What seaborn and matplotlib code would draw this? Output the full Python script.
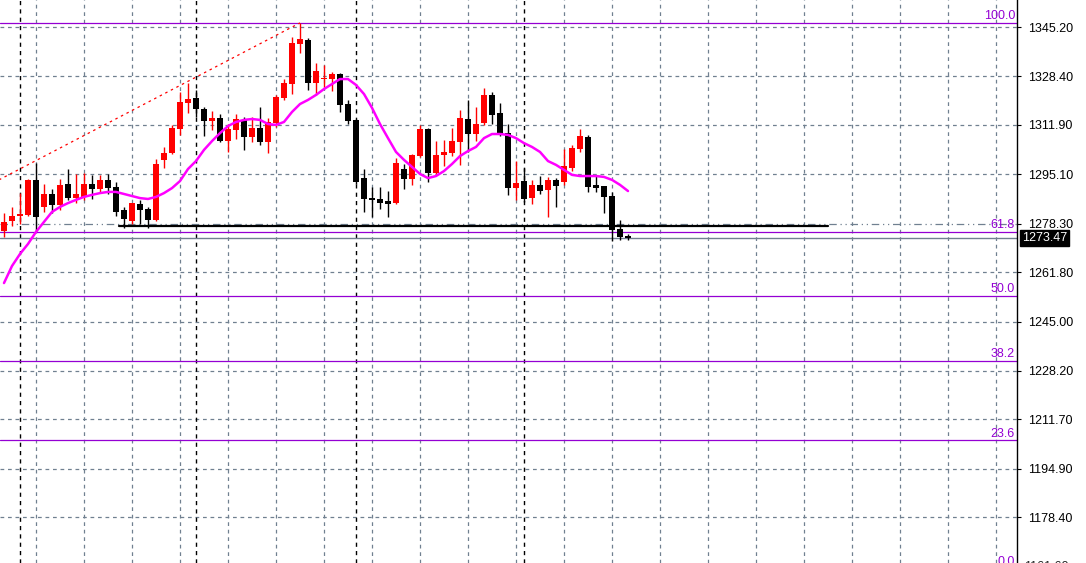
import numpy as np
import matplotlib
matplotlib.use("Agg")
import matplotlib.pyplot as plt
import matplotlib.transforms as mtransforms
import seaborn as sns

# daily candles (gold)
opens = [1275.8, 1279.2, 1280.9, 1281.3, 1293.2, 1284.0, 1288.4, 1284.7, 1291.8, 1287.0,
         1287.4, 1291.8, 1290.1, 1293.2, 1290.8, 1283.0, 1279.2, 1285.0, 1283.3, 1279.6,
         1300.0, 1302.3, 1310.5, 1319.4, 1321.0, 1317.3, 1313.2, 1314.2, 1306.4, 1310.2,
         1313.6, 1307.8, 1310.9, 1306.1, 1312.6, 1321.1, 1325.8, 1339.4, 1340.8, 1326.2,
         1327.5, 1327.5, 1329.2, 1319.0, 1313.6, 1293.8, 1287.0, 1286.7, 1286.0, 1285.3,
         1296.9, 1293.5, 1301.3, 1310.5, 1295.5, 1301.7, 1302.3, 1306.1, 1313.9, 1308.8,
         1312.5, 1322.1, 1315.9, 1309.1, 1290.4, 1292.8, 1287.0, 1291.5, 1289.8, 1293.2,
         1292.5, 1297.2, 1303.7, 1307.8, 1291.5, 1291.1, 1287.7, 1276.5, 1274.1]
highs = [1281.9, 1284.0, 1288.7, 1293.5, 1298.9, 1291.8, 1290.1, 1293.5, 1296.9, 1295.2,
         1295.5, 1294.9, 1294.9, 1295.2, 1292.5, 1284.0, 1285.5, 1286.4, 1284.0, 1300.3,
         1304.4, 1311.9, 1323.1, 1326.2, 1323.8, 1318.0, 1316.6, 1315.6, 1312.2, 1315.6,
         1314.6, 1314.6, 1318.0, 1314.3, 1322.1, 1327.5, 1341.8, 1346.6, 1341.5, 1333.0,
         1332.3, 1329.9, 1329.5, 1320.4, 1313.9, 1296.9, 1290.8, 1290.8, 1289.4, 1300.6,
         1298.6, 1302.0, 1311.9, 1310.9, 1306.4, 1306.8, 1310.9, 1317.0, 1320.4, 1318.0,
         1324.5, 1323.1, 1319.4, 1312.2, 1299.6, 1297.2, 1293.2, 1294.5, 1294.2, 1293.8,
         1303.7, 1305.1, 1310.5, 1308.5, 1294.9, 1291.1, 1289.1, 1279.5, 1274.8]
lows = [1273.8, 1277.5, 1278.2, 1280.9, 1275.8, 1282.3, 1281.9, 1283.0, 1286.4, 1285.3,
        1286.4, 1286.7, 1289.1, 1288.4, 1280.9, 1276.8, 1278.2, 1278.2, 1276.8, 1279.3,
        1297.2, 1302.0, 1308.5, 1315.9, 1314.6, 1308.1, 1310.2, 1306.0, 1302.7, 1307.1,
        1303.4, 1306.1, 1305.1, 1302.3, 1311.2, 1320.4, 1322.4, 1336.4, 1323.8, 1322.1,
        1324.8, 1323.4, 1316.3, 1312.2, 1291.8, 1282.3, 1280.6, 1283.3, 1280.6, 1285.0,
        1290.1, 1291.5, 1301.0, 1292.5, 1294.9, 1297.9, 1301.3, 1298.3, 1302.7, 1306.4,
        1311.9, 1312.2, 1308.1, 1288.1, 1286.4, 1285.7, 1285.0, 1288.4, 1280.6, 1284.0,
        1291.5, 1296.2, 1302.7, 1289.1, 1289.1, 1281.9, 1272.4, 1272.7, 1272.7]
closes = [1278.9, 1280.9, 1281.6, 1293.2, 1280.6, 1288.4, 1284.7, 1291.5, 1287.0, 1288.4,
          1291.8, 1290.1, 1293.2, 1290.4, 1282.3, 1279.9, 1285.3, 1283.0, 1279.6, 1298.6,
          1302.3, 1310.9, 1319.7, 1320.7, 1317.3, 1313.2, 1314.2, 1306.4, 1310.5, 1313.9,
          1307.8, 1310.9, 1306.1, 1312.9, 1321.4, 1326.2, 1339.8, 1341.1, 1326.2, 1330.2,
          1327.9, 1329.2, 1318.7, 1313.2, 1292.5, 1286.7, 1286.4, 1285.3, 1285.0, 1298.9,
          1293.5, 1301.7, 1310.5, 1295.5, 1301.7, 1302.7, 1306.4, 1314.2, 1308.8, 1312.2,
          1322.1, 1315.3, 1308.8, 1290.4, 1292.1, 1286.7, 1291.5, 1289.4, 1293.2, 1291.1,
          1297.9, 1304.0, 1308.1, 1290.8, 1290.4, 1287.4, 1276.2, 1273.8, 1273.47]

# moving average (magenta line)
ma = [1258.1, 1263.9, 1268.0, 1271.4, 1275.5, 1278.9, 1282.3, 1284.0, 1285.3, 1286.4,
      1287.4, 1288.1, 1288.7, 1289.1, 1289.1, 1288.4, 1287.7, 1287.0, 1286.7, 1287.4,
      1288.7, 1290.4, 1292.8, 1296.9, 1299.6, 1303.4, 1306.4, 1309.1, 1311.5, 1312.9,
      1313.6, 1313.9, 1313.6, 1312.2, 1311.9, 1312.9, 1316.3, 1319.0, 1320.4, 1322.1,
      1324.1, 1325.8, 1327.5, 1327.5, 1325.5, 1322.4, 1317.7, 1312.2, 1307.4, 1302.7,
      1300.0, 1297.6, 1295.2, 1293.8, 1294.5, 1296.2, 1298.6, 1301.3, 1303.0, 1304.4,
      1307.4, 1308.8, 1308.8, 1308.5, 1307.4, 1305.7, 1304.4, 1302.7, 1299.6, 1298.3,
      1296.6, 1294.9, 1294.5, 1294.5, 1294.5, 1294.2, 1293.2, 1291.5, 1289.4]

# fibonacci retracement
fib_levels = [0.0, 23.6, 38.2, 50.0, 61.8, 100.0]
fib_low = 1160.7
fib_high = 1346.6
fib_start_bar = -94
fib_end_bar = 37

support_price = 1277.5
support_bars = [14.4, 103]
last_price = 1273.47

tick_vals = [1345.20, 1328.40, 1311.90, 1295.10, 1278.30, 1261.80,
             1245.00, 1228.20, 1211.70, 1194.90, 1178.40]
tick_labels = ["%.2f" % v for v in tick_vals]
month_breaks = [2, 24, 44, 65]
vgrid = list(range(4, 127, 6))

sns.set_style("white")
plt.rcParams['font.family'] = ['Liberation Sans', 'DejaVu Sans']

fig = plt.figure(figsize=(10.86, 5.63), dpi=100)
ax = fig.add_axes([0, 0, 1017 / 1086, 1])
ax.set_xlim(-0.5, 126.625)
ax.set_ylim(1162.86, 1354.39)

grid_col = '#708090'
for v in tick_vals:
    ls = (0, (6, 3, 1, 3, 1, 3)) if v == 1278.30 else (0, (3, 3))
    ax.axhline(v, color=grid_col, lw=0.9, ls=ls, zorder=0)
for v in vgrid:
    ax.axvline(v, color=grid_col, lw=0.9, ls=(0, (3, 3)), zorder=0)
for v in month_breaks:
    ax.axvline(v, color='black', lw=1, ls=(0, (3, 3)), zorder=0.5)

# fib levels
fib_col = '#9400D3'
blend = mtransforms.blended_transform_factory(ax.transAxes, ax.transData)
for lvl in fib_levels:
    p = fib_low + (fib_high - fib_low) * lvl / 100
    ax.axhline(p, color=fib_col, lw=0.9, zorder=1)
    ax.text(0.998, p + 0.3, "%.1f" % lvl, transform=blend, ha='right', va='bottom',
            color=fib_col, fontsize=9, clip_on=False)
ax.plot([fib_start_bar, fib_end_bar], [fib_low, fib_high], color='red', lw=0.9,
        ls=(0, (2, 3)), zorder=1)

# bid line
ax.axhline(last_price, color=grid_col, lw=1, zorder=1)

# candles
idx = np.arange(len(opens))
o = np.array(opens); c = np.array(closes)
cols = np.where(c > o, 'red', 'black')
ax.vlines(idx, lows, highs, colors=cols, lw=1, zorder=2)
ax.bar(idx, np.maximum(np.abs(c - o), 0.4), bottom=np.minimum(o, c), width=0.72,
       color=cols, linewidth=0, zorder=3)

sns.lineplot(x=idx, y=ma, ax=ax, color='#FF00FF', linewidth=1.8, zorder=4)

ax.plot(support_bars, [support_price, support_price], color='black', lw=1.6, zorder=5)

# axes styling
for s in ['top', 'left', 'bottom']:
    ax.spines[s].set_visible(False)
ax.spines['right'].set_color('black')
ax.spines['right'].set_linewidth(1)
ax.set_xticks([])
ax.yaxis.tick_right()
ax.set_yticks(tick_vals)
ax.set_yticklabels(tick_labels)
ax.tick_params(axis='y', length=3, width=0.8, pad=5, labelsize=9, colors='black',
               right=True)
ax.set_xlabel("")
ax.set_ylabel("")

ax.text(1.0 + 7 / 1017, 1161.6, "1161.60", transform=blend, ha='left', va='center',
        fontsize=9, clip_on=False)
ax.text(1.0 + 5 / 1017, last_price, "%.2f" % last_price, transform=blend, ha='left',
        va='center', fontsize=9, color='white', clip_on=False,
        bbox=dict(boxstyle='square,pad=0.15', fc='black', ec='black'))

fig.savefig("out.png", dpi=100)
